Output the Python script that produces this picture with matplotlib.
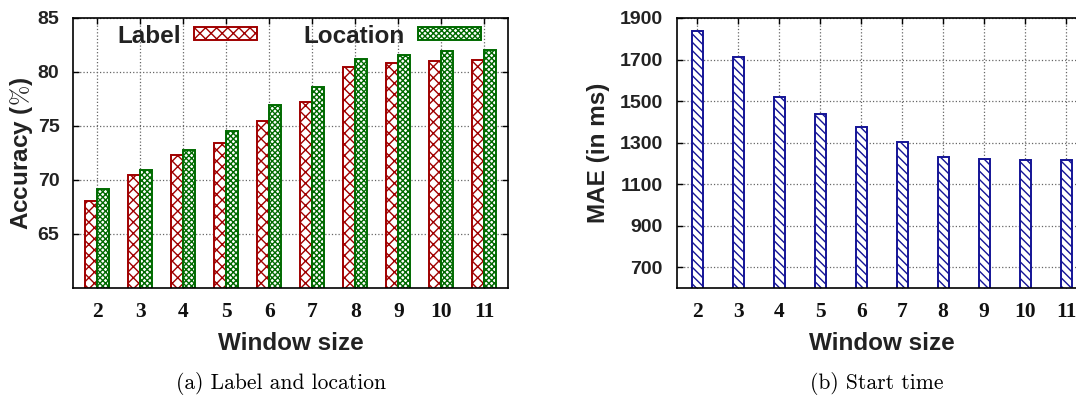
import numpy as np
import matplotlib
matplotlib.use("Agg")
import matplotlib.pyplot as plt

# window sizes shared by both panels
window = [2, 3, 4, 5, 6, 7, 8, 9, 10, 11]

# (a) accuracy in %
acc_label = [68.1, 70.5, 72.3, 73.4, 75.5, 77.2, 80.5, 80.8, 81.0, 81.1]
acc_location = [69.2, 70.9, 72.8, 74.5, 76.9, 78.6, 81.2, 81.6, 81.9, 82.0]

# (b) start time MAE in ms
mae_start = [1838, 1710, 1520, 1440, 1375, 1305, 1232, 1219, 1217, 1215]

plt.rcParams["mathtext.fontset"] = "cm"
plt.rcParams["hatch.linewidth"] = 1.0

red = "#a00000"
green = "#006a00"
blue = "#141496"

sans = "Liberation Sans"
serif = "Liberation Serif"

fig = plt.figure(figsize=(10.76, 3.99), dpi=100)
ax1 = fig.add_axes([0.0681, 0.2782, 0.404, 0.6767])
ax2 = fig.add_axes([0.6289, 0.2782, 0.3809, 0.6767])

x = np.array(window)


def style(ax, xlim):
    ax.set_axisbelow(True)
    ax.grid(True, linestyle=":", color="#666666", linewidth=0.9)
    ax.set_xlim(*xlim)
    ax.set_xticks(window)
    ax.tick_params(direction="in", top=True, right=True, length=4, width=1, colors="black")
    ax.tick_params(axis="x", pad=10)
    ax.tick_params(axis="y", pad=10)
    for lab in ax.get_xticklabels():
        lab.set_fontfamily(serif)
        lab.set_fontweight("bold")
        lab.set_fontsize(15.5)
        lab.set_color("#111111")
    for lab in ax.get_yticklabels():
        lab.set_fontfamily(sans)
        lab.set_fontweight("bold")
        lab.set_fontsize(14)
        lab.set_color("#222222")
    for sp in ax.spines.values():
        sp.set_linewidth(1.2)
    ax.set_xlabel("Window size", fontfamily=sans, fontweight="bold", fontsize=17.5,
                  color="#222222", va="center")
    ax.xaxis.set_label_coords(0.5, -0.204)


# ---- (a) label and location
w = 0.28
ax1.bar(x - w / 2, acc_label, w, bottom=0, color="white", edgecolor=red,
        hatch="xxx", linewidth=1.4, label="Label")
ax1.bar(x + w / 2, acc_location, w, bottom=0, color="white", edgecolor=green,
        hatch="xxxxxx", linewidth=1.4, label="Location")
ax1.set_ylim(60, 85)
ax1.set_yticks([65, 70, 75, 80, 85])
style(ax1, (1.44, 11.55))
ax1.set_ylabel("Accuracy ($\\%$)", fontfamily=sans, fontweight="bold", fontsize=17.5,
               color="#222222", va="center")
ax1.yaxis.set_label_coords(-0.118, 0.5)
leg = ax1.legend(loc="center", bbox_to_anchor=(0.52, 0.933), ncol=2, frameon=False,
                 markerfirst=False, handlelength=2.6, handleheight=0.45,
                 handletextpad=0.55, columnspacing=1.9, borderpad=0,
                 prop={"family": sans, "weight": "bold", "size": 17.5})
for t in leg.get_texts():
    t.set_color("#222222")

# ---- (b) start time
ax2.bar(x, mae_start, 0.27, color="white", edgecolor=blue, hatch="\\\\\\\\",
        linewidth=1.4)
ax2.set_ylim(600, 1900)
ax2.set_yticks([700, 900, 1100, 1300, 1500, 1700, 1900])
style(ax2, (1.5, 11.5))
ax2.set_ylabel("MAE (in ms)", fontfamily=sans, fontweight="bold", fontsize=17.5,
               color="#222222", va="center")
ax2.yaxis.set_label_coords(-0.192, 0.5)

# subfigure captions
fig.text(0.2616, 0.0376, "(a) Label and location", family="cmr10", fontsize=15.5,
         ha="center", va="center")
fig.text(0.8146, 0.0376, "(b) Start time", family="cmr10", fontsize=15.5,
         ha="center", va="center")

fig.savefig("out.png", dpi=100)
